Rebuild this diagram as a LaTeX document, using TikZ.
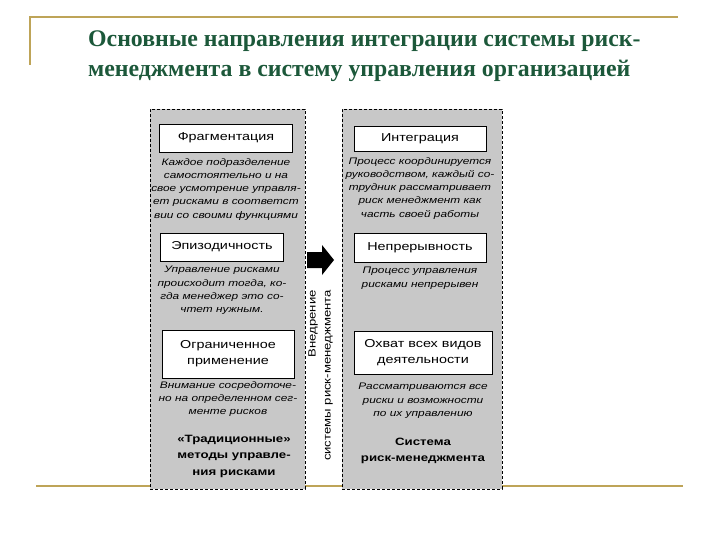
\documentclass[tikz,border=0pt]{standalone}
\usepackage{fontspec}
\setmainfont{Liberation Serif}
\newfontfamily\panelfont[FakeStretch=1.25]{Liberation Sans}
\usetikzlibrary{positioning}
\definecolor{titlegreen}{RGB}{28,88,58}
\definecolor{rulegold}{RGB}{190,164,88}
\definecolor{panelgray}{RGB}{200,200,200}
\tikzset{
  rmpanel/.style = {draw, dash pattern=on 3pt off 2pt, fill=panelgray,
                    inner sep=0pt},
  rmbox/.style   = {draw, fill=white, align=center, inner sep=1pt,
                    font=\panelfont\fontsize{11.5}{16}\selectfont},
  rmnote/.style  = {align=center, inner sep=0pt,
                    font=\panelfont\itshape\fontsize{9.5}{13.2}\selectfont},
  rmsum/.style   = {align=center, inner sep=0pt,
                    font=\panelfont\bfseries\fontsize{10.6}{16.5}\selectfont},
  rmrule/.style  = {rulegold, line width=2pt}
}
\begin{document}
\begin{tikzpicture}[x=1pt, y=-1pt]
  \useasboundingbox (0,0) rectangle (720,540);
  % gold rules of the slide
  \draw[rmrule] (30,65) -- (30,17) -- (678,17);
  \draw[rmrule] (36,486) -- (683,486);

  \node[font=\bfseries\fontsize{23.8}{30}\selectfont, text=titlegreen,
        align=left, anchor=west, inner sep=0pt] (title) at (88,56)
        {Основные направления интеграции системы риск-\\менеджмента в систему управления организацией};

  % two panels
  \node[rmpanel, minimum width=155pt, minimum height=380pt] (old) at (227.5,299) {};
  \node[rmpanel, minimum width=160pt, minimum height=380pt] (new) at (422,299) {};

  % traditional methods
  \node[rmbox, minimum width=133pt, minimum height=28pt] (frag) at (226,138) {Фрагментация};
  \node[rmnote, below=6pt of frag] (fragnote)
        {Каждое подразделение\\самостоятельно и на\\свое усмотрение управля-\\ет рисками в соответст\\вии со своими функциями};
  \node[rmbox, minimum width=123pt, minimum height=28pt] (epis) at (222,247) {Эпизодичность};
  \node[rmnote, below=5pt of epis] (episnote)
        {Управление рисками\\происходит тогда, ко-\\гда менеджер это со-\\чтет нужным.};
  \node[rmbox, minimum width=132pt, minimum height=48pt] (limit) at (228,354)
        {Ограниченное\\применение};
  \node[rmnote, below=3pt of limit] (limitnote)
        {Внимание сосредоточе-\\но на определенном сег-\\менте рисков};
  \node[rmsum, below=18pt of limitnote, xshift=6pt] (oldsum)
        {«Традиционные»\\методы управле-\\ния рисками};

  % risk management system
  \node[rmbox, minimum width=132pt, minimum height=25pt] (integ) at (420,138.5) {Интеграция};
  \node[rmnote, below=6pt of integ] (integnote)
        {Процесс координируется\\руководством, каждый со-\\трудник рассматривает\\риск менеджмент как\\часть своей работы};
  \node[rmbox, minimum width=132pt, minimum height=29pt] (cont) at (420,247.5) {Непрерывность};
  \node[rmnote, below=5pt of cont] (contnote)
        {Процесс управления\\рисками непрерывен};
  \node[rmbox, minimum width=138pt, minimum height=43pt] (cover) at (423,352.5)
        {Охват всех видов\\деятельности};
  \node[rmnote, below=9pt of cover] (covernote)
        {Рассматриваются все\\риски и возможности\\по их управлению};
  \node[rmsum, below=19pt of covernote] (newsum)
        {Система\\риск-менеджмента};

  % transition
  \fill (307,252) -- (322,252) -- (322,245) -- (334,260) -- (322,275)
        -- (322,268) -- (307,268) -- cycle;
  \node[rotate=90, anchor=east, align=right, inner sep=0pt,
        font=\panelfont\fontsize{10.5}{15}\selectfont] (shiftlbl) at (320.5,290)
        {Внедрение\\системы риск-менеджмента};
\end{tikzpicture}
\end{document}
